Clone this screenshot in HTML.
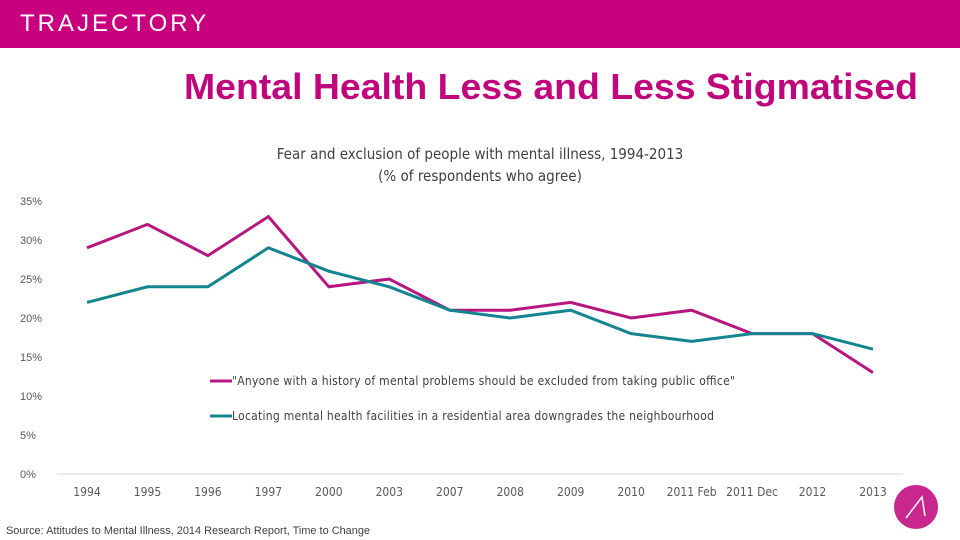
<!DOCTYPE html>
<html><head><meta charset="utf-8"><style>
body{margin:0;width:960px;height:540px;background:#fff;overflow:hidden;font-family:"Liberation Sans",sans-serif;position:relative}
.hdr{position:absolute;left:0;top:0;width:960px;height:48px;background:#c8007e}
.logo{position:absolute;left:20px;top:10px;color:#fff;font-size:24px;letter-spacing:3px;font-weight:300}
</style></head><body>
<div class="hdr"><div class="logo">TRAJECTORY</div></div>
<svg id="c" width="960" height="540" style="position:absolute;left:0;top:0"></svg>
<script>
const categories=["1994","1995","1996","1997","2000","2003","2007","2008","2009","2010","2011 Feb","2011 Dec","2012","2013"];
const seriesExclude=[29,32,28,33,24,25,21,21,22,20,21,18,18,13];
const seriesFacilities=[22,24,24,29,26,24,21,20,21,18,17,18,18,16];
const yTicks=[0,5,10,15,20,25,30,35];
const seriesNames=["\"Anyone with a history of mental problems should be excluded from taking public office\"","Locating mental health facilities in a residential area downgrades the neighbourhood"];
const legendLens=[503,482];
const NS="http://www.w3.org/2000/svg",svg=document.getElementById('c');
const x=i=>87+i*(873-87)/(categories.length-1);
const y=v=>474-v*7.8;
function mk(t,a){const e=document.createElementNS(NS,t);for(const k in a)e.setAttribute(k,a[k]);svg.appendChild(e);return e;}
let t=mk('text',{x:184,y:99,'font-size':36,'font-weight':'bold',fill:'#c0067c',textLength:734,lengthAdjust:'spacingAndGlyphs'});t.textContent='Mental Health Less and Less Stigmatised';


t=mk('text',{x:480,y:159,'text-anchor':'middle','font-size':15,fill:'#404040','font-family':'"DejaVu Sans Condensed","Liberation Sans",sans-serif'});t.textContent='Fear and exclusion of people with mental illness, 1994-2013';


t=mk('text',{x:480,y:181,'text-anchor':'middle','font-size':15,fill:'#404040','font-family':'"DejaVu Sans Condensed","Liberation Sans",sans-serif'});t.textContent='(% of respondents who agree)';


yTicks.forEach(v=>{const e=mk('text',{x:20,y:y(v)+4,'font-size':11,fill:'#595959'});e.textContent=v+'%';

});
const ax=mk('line',{x1:57,x2:903,y1:474,y2:474,stroke:'#d9d9d9','stroke-width':1});


categories.forEach((c,i)=>{const e=mk('text',{x:x(i),y:496,'font-size':12,fill:'#595959','text-anchor':'middle','font-family':'"DejaVu Sans Condensed","Liberation Sans",sans-serif'});e.textContent=c;

});
const cols=['#b5177f','#13858f'];
[seriesExclude,seriesFacilities].forEach((s,k)=>{const p=mk('polyline',{points:s.map((v,i)=>x(i)+','+y(v)).join(' '),fill:'none',stroke:cols[k],'stroke-width':3,'stroke-linejoin':'miter'});

});
seriesNames.forEach((n,k)=>{const yy=381+k*35;const l=mk('line',{x1:210,x2:232,y1:yy,y2:yy,stroke:cols[k],'stroke-width':3});


const e=mk('text',{x:232,y:yy+4,'font-size':12,fill:'#404040','font-family':'"DejaVu Sans Condensed","Liberation Sans",sans-serif',textLength:legendLens[k],lengthAdjust:'spacing'});e.textContent=n;

});
t=mk('text',{x:6,y:534,'font-size':11,fill:'#404040',textLength:364,lengthAdjust:'spacingAndGlyphs'});t.textContent='Source: Attitudes to Mental Illness, 2014 Research Report, Time to Change';


const ci=mk('circle',{cx:916,cy:507,r:22,fill:'#c8288e'});


const pl=mk('polyline',{points:'906,518 922,497 925,516',fill:'none',stroke:'#fff','stroke-width':1.5});


</script>
</body></html>
